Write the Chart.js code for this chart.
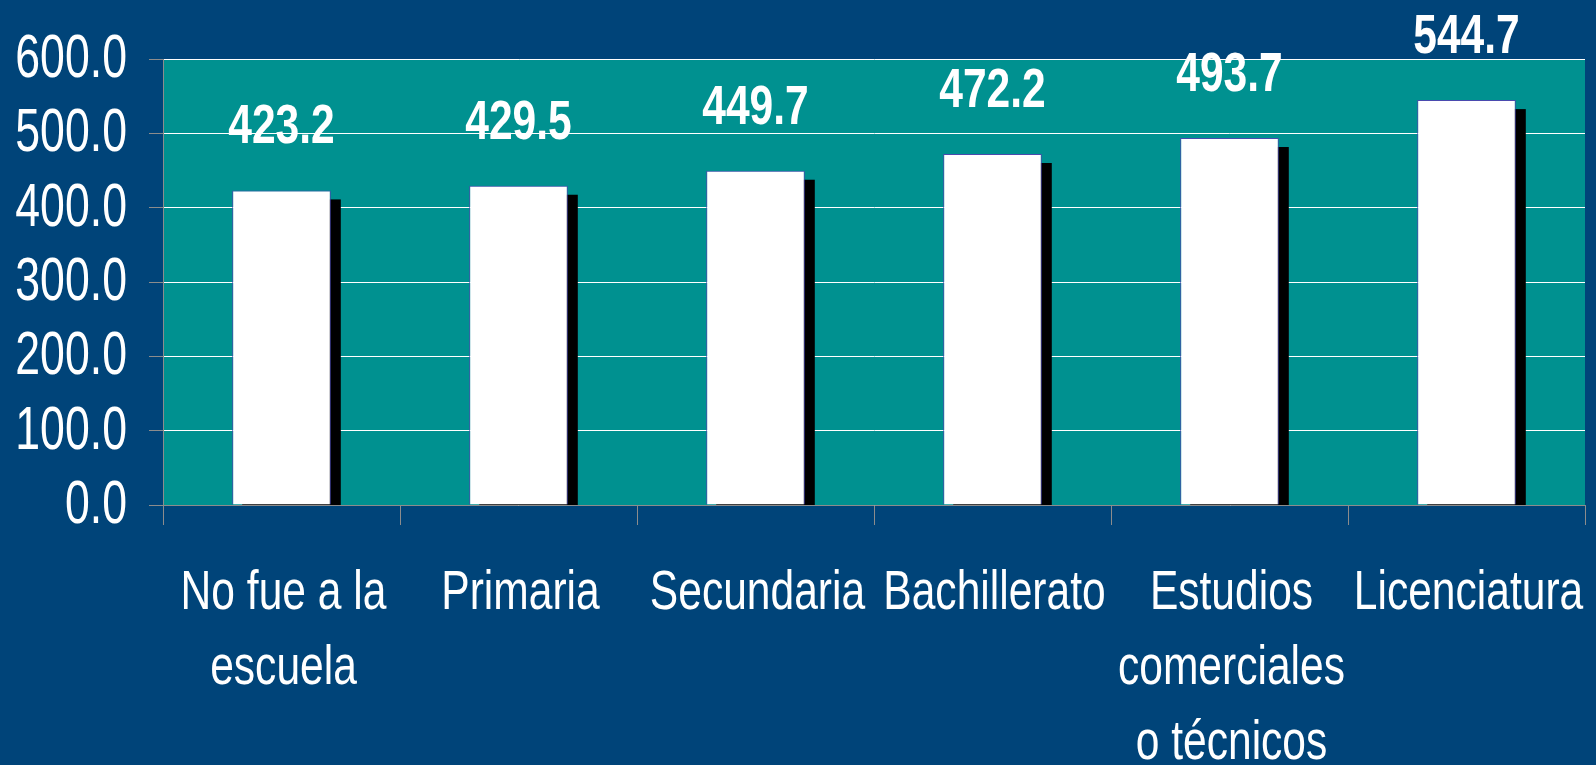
<!DOCTYPE html>
<html>
<head>
<meta charset="utf-8">
<script src="https://cdn.jsdelivr.net/npm/chart.js@4.4.1/dist/chart.umd.min.js"></script>
<style>
  body { margin: 0; background: #004479; }
  #wrap { width: 1596px; height: 765px; }
</style>
</head>
<body>
<div id="wrap"><canvas id="chartId" width="1596" height="765"></canvas></div>
<script>
const categories = [
    ['No fue a la', 'escuela'],
    'Primaria',
    'Secundaria',
    'Bachillerato',
    ['Estudios', 'comerciales', 'o técnicos'],
    'Licenciatura'
];
const values = [423.2, 429.5, 449.7, 472.2, 493.7, 544.7];
const yTicks = [0, 100, 200, 300, 400, 500, 600];

// no narrow font installed, so text gets squeezed horizontally
const FONT = '"Liberation Sans", Arial, sans-serif';
const teal = '#009190';
const grey = '#8c8c8c';

function narrowText(ctx, text, x, y, align, sx) {
    ctx.save();
    ctx.translate(x, y);
    ctx.scale(sx, 1);
    ctx.textAlign = align;
    ctx.fillText(text, 0, 0);
    ctx.restore();
}

// teal plot area
const plotBg = {
    id: 'plotBg',
    beforeDraw(chart) {
        const a = chart.chartArea;
        const ctx = chart.ctx;
        ctx.save();
        ctx.fillStyle = teal;
        ctx.fillRect(a.left, a.top, a.right - a.left, a.bottom - a.top);
        ctx.restore();
    }
};

// hard black shadow behind each bar, offset right and down
const barShadow = {
    id: 'barShadow',
    beforeDatasetsDraw(chart) {
        const ctx = chart.ctx;
        const a = chart.chartArea;
        const meta = chart.getDatasetMeta(0);
        ctx.save();
        ctx.beginPath();
        ctx.rect(a.left, a.top, a.right - a.left, a.bottom - a.top);
        ctx.clip();
        ctx.fillStyle = '#000000';
        meta.data.forEach(function(bar) {
            const p = bar.getProps(['x', 'y', 'base', 'width'], true);
            ctx.fillRect(p.x - p.width / 2 + 10, p.y + 9, p.width, p.base - p.y);
        });
        ctx.restore();
    }
};

// axis labels and value labels
const textLayer = {
    id: 'textLayer',
    afterDraw(chart) {
        const ctx = chart.ctx;
        const xs = chart.scales.x;
        const ys = chart.scales.y;
        ctx.save();
        ctx.fillStyle = '#ffffff';
        ctx.textBaseline = 'alphabetic';

        // y tick labels
        ctx.font = '62px ' + FONT;
        ys.ticks.forEach(function(t) {
            narrowText(ctx, t.value.toFixed(1), 127, ys.getPixelForValue(t.value) + 18, 'right', 0.72);
        });

        // category labels
        ctx.font = '56px ' + FONT;
        categories.forEach(function(lab, i) {
            const lines = Array.isArray(lab) ? lab : [lab];
            const cx = xs.getPixelForValue(i) + 2;
            lines.forEach(function(line, j) {
                narrowText(ctx, line, cx, 609 + j * 75, 'center', 0.76);
            });
        });

        // value labels above bars
        ctx.font = 'bold 56px ' + FONT;
        chart.getDatasetMeta(0).data.forEach(function(bar, i) {
            narrowText(ctx, values[i].toFixed(1), bar.x, bar.y - 47, 'center', 0.76);
        });
        ctx.restore();
    }
};

var chrt = document.getElementById('chartId').getContext('2d');
var chart = new Chart(chrt, {
    type: 'bar',
    data: {
        labels: categories,
        datasets: [{
            data: values,
            backgroundColor: '#ffffff',
            borderColor: '#4a4aae',
            borderWidth: 1,
            barPercentage: 1,
            categoryPercentage: 0.416,
            clip: 0
        }]
    },
    options: {
        responsive: false,
        animation: false,
        layout: { padding: { top: 59, right: 11, left: 0, bottom: 0 } },
        plugins: {
            legend: { display: false },
            tooltip: { enabled: false }
        },
        scales: {
            x: {
                afterFit(scale) {
                    scale.height = 260;
                    scale.paddingLeft = 0;
                    scale.paddingRight = 0;
                },
                grid: {
                    drawOnChartArea: false,
                    drawTicks: true,
                    tickLength: 20,
                    tickColor: grey,
                    offset: true
                },
                border: { color: grey, width: 1 },
                ticks: { display: false }
            },
            y: {
                min: 0,
                max: 600,
                afterFit(scale) {
                    scale.width = 163;
                    scale.paddingTop = 0;
                    scale.paddingBottom = 0;
                },
                afterBuildTicks(scale) {
                    scale.ticks = yTicks.map(v => ({ value: v }));
                },
                grid: {
                    color: '#ffffff',
                    lineWidth: 1,
                    tickLength: 14,
                    tickColor: grey
                },
                border: { color: grey, width: 1 },
                ticks: { display: false }
            }
        }
    },
    plugins: [plotBg, barShadow, textLayer]
});
</script>
</body>
</html>
